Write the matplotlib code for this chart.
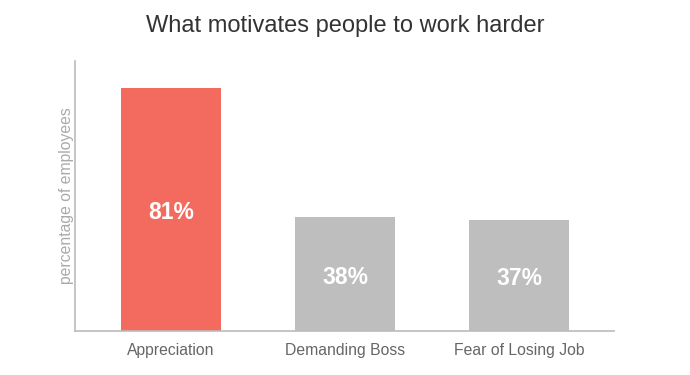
import matplotlib
matplotlib.use("Agg")
import matplotlib.pyplot as plt
from matplotlib.transforms import offset_copy

categories = ["Appreciation", "Demanding Boss", "Fear of Losing Job"]
values = [81, 38, 37]
labels = ["81%", "38%", "37%"]
colors = ["#F26B5E", "#BEBEBE", "#BEBEBE"]

plt.rcParams['font.family'] = ['Liberation Sans', 'DejaVu Sans']

fig = plt.figure(figsize=(6.9, 3.75), dpi=100)
ax = fig.add_axes([75/690, 1-331/375, (614-75)/690, (331-61)/375])

x = list(range(len(categories)))
bars = ax.bar(x, values, width=0.575, color=colors, zorder=2)
trans = offset_copy(ax.transData, fig=fig, x=0, y=-2.5, units='points')
for xi, v, lab in zip(x, values, labels):
    ax.text(xi, v/2, lab, ha='center', va='center', color='white',
            fontsize=16.5, fontweight='bold', transform=trans)

ax.set_xlim(-0.552, 2.546)
ax.set_ylim(0, 90)
ax.set_xticks(x)
ax.set_xticklabels(categories, fontsize=11.3, color='#666666')
ax.tick_params(axis='x', length=0, pad=9)
ax.set_yticks([])
for s in ['top', 'right']:
    ax.spines[s].set_visible(False)
for s in ['left', 'bottom']:
    ax.spines[s].set_color('#BBBBBB')
    ax.spines[s].set_linewidth(1.2)
ax.set_ylabel("percentage of employees", fontsize=11.3, color='#AAAAAA', labelpad=1)

fig.text(345/690, 1-26/375, "What motivates people to work harder", ha='center', va='center',
         fontsize=17, color='#333333')

fig.savefig("out.png", dpi=100)
